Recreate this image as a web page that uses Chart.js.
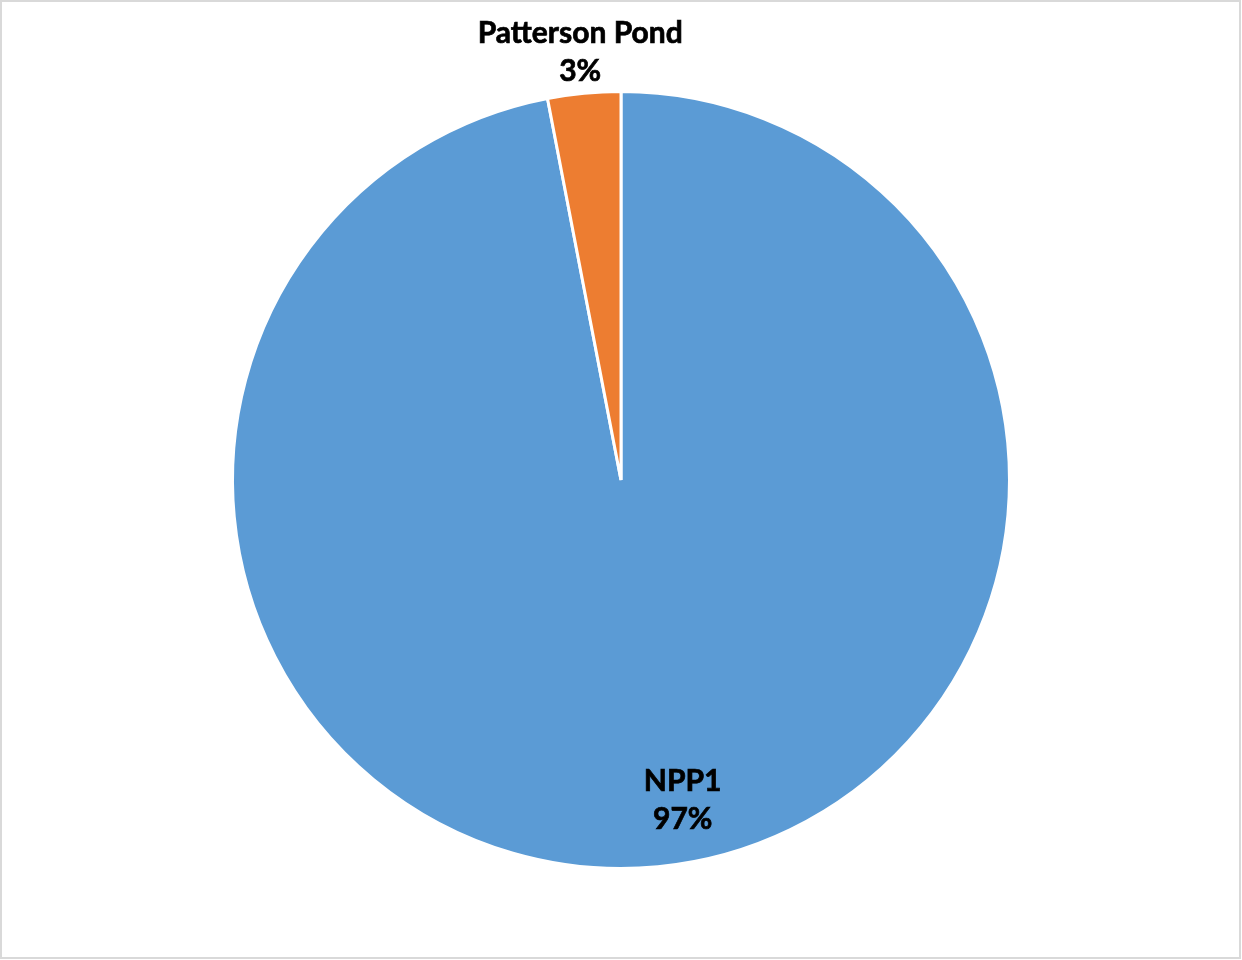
<!DOCTYPE html>
<html><head><meta charset="utf-8">
<script src="https://cdn.jsdelivr.net/npm/chart.js@4/dist/chart.umd.min.js"></script>
<style>html,body{margin:0;padding:0;background:#fff}#wrap{width:1242px;height:960px;position:relative}</style>
</head><body><div id="wrap"><canvas id="c" width="1242" height="960"></canvas></div>
<script>
const categories = ["NPP1", "Patterson Pond"];
const values = [97, 3.03];
const percentLabels = ["97%", "3%"];
const colors = ["#5B9BD5", "#ED7D31"];

const frame = {
  id: 'frame',
  beforeDraw(chart) {
    const ctx = chart.ctx;
    ctx.save();
    ctx.fillStyle = '#fff';
    ctx.fillRect(0, 0, chart.width, chart.height);
    ctx.strokeStyle = '#D9D9D9';
    ctx.lineWidth = 2;
    ctx.strokeRect(1, 1, chart.width - 3, chart.height - 3);
    ctx.restore();
  }
};

const labelsPlugin = {
  id: 'sliceLabels',
  afterDatasetsDraw(chart) {
    const ctx = chart.ctx;
    const meta = chart.getDatasetMeta(0);
    const cfg = [{ r: 0.84, da: 0.095 }, { r: 1.105, da: 0 }];
    ctx.save();
    ctx.font = 'bold 30px Lato, "Open Sans", sans-serif';
    ctx.fillStyle = '#000';
    ctx.strokeStyle = '#000';
    ctx.lineWidth = 0.7;
    ctx.textAlign = 'center';
    ctx.textBaseline = 'middle';
    meta.data.forEach((arc, i) => {
      const p = arc.getProps(['x', 'y', 'startAngle', 'endAngle', 'outerRadius'], true);
      const mid = (p.startAngle + p.endAngle) / 2 - cfg[i].da;
      const rr = p.outerRadius * cfg[i].r;
      const x = p.x + Math.cos(mid) * rr;
      const y = p.y + Math.sin(mid) * rr;
      [[categories[i], y - 19], [percentLabels[i], y + 19]].forEach(([t, ty]) => {
        ctx.fillText(t, x, ty);
        ctx.strokeText(t, x, ty);
      });
    });
    ctx.restore();
  }
};

new Chart(document.getElementById('c'), {
  type: 'pie',
  data: {
    labels: categories,
    datasets: [{
      data: values,
      backgroundColor: colors,
      borderColor: '#ffffff',
      borderWidth: 3
    }]
  },
  options: {
    responsive: false,
    animation: false,
    layout: { padding: { top: 90, bottom: 90, left: 0, right: 0 } },
    plugins: { legend: { display: false }, tooltip: { enabled: false } }
  },
  plugins: [frame, labelsPlugin]
});
</script></body></html>
